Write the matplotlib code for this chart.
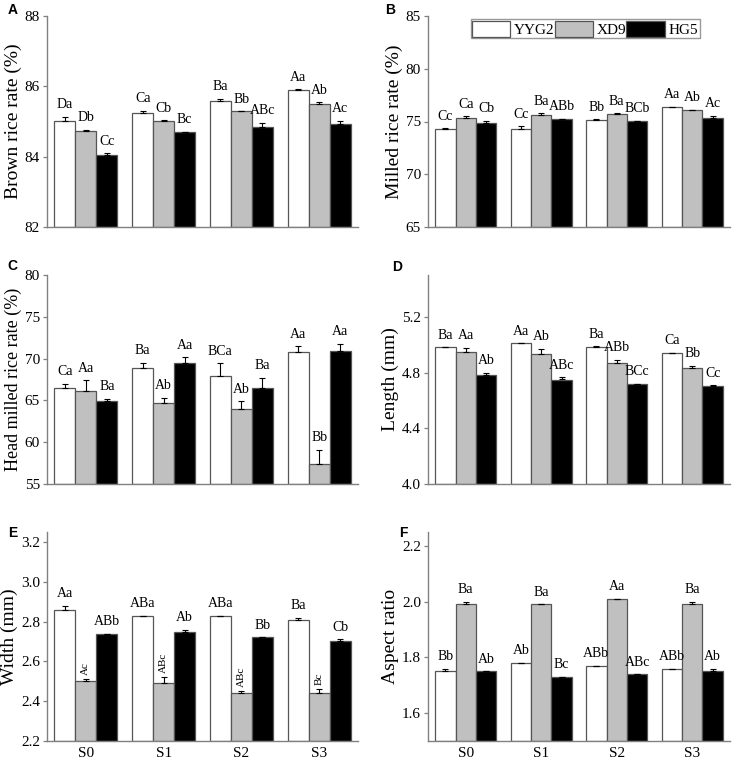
import numpy as np
import matplotlib
matplotlib.use("Agg")
import matplotlib.pyplot as plt
from matplotlib.patches import Patch

plt.rcParams['font.family'] = ['Liberation Serif', 'DejaVu Serif']

stages = ['S0', 'S1', 'S2', 'S3']
varieties = ['YYG2', 'XD9', 'HG5']

# rows: YYG2, XD9, HG5 ; columns: S0..S3
brown = [[85.02, 85.24, 85.58, 85.90], [84.72, 85.02, 85.29, 85.50], [84.06, 84.70, 84.84, 84.94]]
brown_err = [[0.12, 0.07, 0.07, 0.02], [0.04, 0.02, 0.0, 0.05], [0.04, 0.0, 0.12, 0.08]]
brown_sig = [['Da', 'Ca', 'Ba', 'Aa'], ['Db', 'Cb', 'Bb', 'Ab'], ['Cc', 'Bc', 'ABc', 'Ac']]

milled = [[74.30, 74.30, 75.16, 76.37], [75.35, 75.63, 75.70, 76.08], [74.87, 75.19, 75.03, 75.35]]
milled_err = [[0.05, 0.25, 0.05, 0.05], [0.15, 0.15, 0.07, 0.03], [0.2, 0.05, 0.03, 0.2]]
milled_sig = [['Cc', 'Cc', 'Bb', 'Aa'], ['Ca', 'Ba', 'Ba', 'Ab'], ['Cb', 'ABb', 'BCb', 'Ac']]

head = [[66.49, 68.88, 67.92, 70.76], [66.13, 64.69, 63.97, 57.39], [64.97, 69.48, 66.53, 70.88]]
head_err = [[0.5, 0.6, 1.5, 0.7], [1.3, 0.6, 0.9, 1.7], [0.25, 0.7, 1.2, 0.9]]
head_sig = [['Ca', 'Ba', 'BCa', 'Aa'], ['Aa', 'Ab', 'Ab', 'Bb'], ['Ba', 'Aa', 'Ba', 'Aa']]

length = [[4.98, 5.01, 4.98, 4.94], [4.95, 4.93, 4.87, 4.83], [4.78, 4.75, 4.72, 4.70]]
length_err = [[0.0, 0.0, 0.01, 0.0], [0.026, 0.04, 0.02, 0.02], [0.017, 0.017, 0.0, 0.01]]
length_sig = [['Ba', 'Aa', 'Ba', 'Ca'], ['Aa', 'Ab', 'ABb', 'Bb'], ['Ab', 'ABc', 'BCc', 'Cc']]

width = [[2.86, 2.83, 2.83, 2.81], [2.50, 2.49, 2.44, 2.44], [2.74, 2.75, 2.72, 2.70]]
width_err = [[0.02, 0.0, 0.0, 0.01], [0.01, 0.03, 0.01, 0.02], [0.0, 0.01, 0.0, 0.01]]
width_sig = [['Aa', 'ABa', 'ABa', 'Ba'], ['Ac', 'ABc', 'ABc', 'Bc'], ['ABb', 'Ab', 'Bb', 'Cb']]

aspect = [[1.75, 1.78, 1.77, 1.76], [1.99, 1.99, 2.01, 1.99], [1.75, 1.73, 1.74, 1.75]]
aspect_err = [[0.01, 0.0, 0.0, 0.0], [0.01, 0.0, 0.0, 0.01], [0.0, 0.0, 0.0, 0.01]]
aspect_sig = [['Bb', 'Ab', 'ABb', 'ABb'], ['Ba', 'Ba', 'Aa', 'Ba'], ['Ab', 'Bc', 'ABc', 'Ab']]

fills = ['white', '#c0c0c0', 'black']
edge = '#555555'
spine_col = '#808080'
bw = 0.27

panels = [
    ('A', brown, brown_err, brown_sig, 'Brown rice rate (%)', (82, 88), np.arange(82, 89, 2), '%d'),
    ('B', milled, milled_err, milled_sig, 'Milled rice rate (%)', (65, 85), np.arange(65, 86, 5), '%d'),
    ('C', head, head_err, head_sig, 'Head milled rice rate (%)', (55, 80), np.arange(55, 81, 5), '%d'),
    ('D', length, length_err, length_sig, 'Length (mm)', (4.0, 5.5), [4.0, 4.4, 4.8, 5.2], '%.1f'),
    ('E', width, width_err, width_sig, 'Width (mm)', (2.2, 3.25), np.arange(2.2, 3.21, 0.2), '%.1f'),
    ('F', aspect, aspect_err, aspect_sig, 'Aspect ratio', (1.5, 2.25), np.arange(1.6, 2.21, 0.2), '%.1f'),
]

fig = plt.figure(figsize=(7.4, 7.62), dpi=100)
W, H = 740.0, 762.0
cols = [(47, 358), (428, 730)]
rows = [(16, 227), (275, 484), (532, 741)]
# panel letter centres in pixels
letter_pos = [(13, 10), (390, 10), (12, 266), (397, 267), (13, 533), (403, 533)]

x = np.arange(len(stages))
for k, (letter, vals, errs, sigs, ylab, ylim, yticks, fmt) in enumerate(panels):
    r, c = divmod(k, 2)
    x0, x1 = cols[c]
    y0, y1 = rows[r]
    ax = fig.add_axes([x0 / W, 1 - y1 / H, (x1 - x0) / W, (y1 - y0) / H])

    for j in range(3):
        xs = x + (j - 1) * bw
        v = np.array(vals[j])
        e = np.array(errs[j])
        ax.bar(xs, v - ylim[0], bw, bottom=ylim[0], color=fills[j], edgecolor=edge, linewidth=0.9,
               label=varieties[j], zorder=2)
        ax.errorbar(xs, v, yerr=[np.zeros_like(e), e], fmt='none', ecolor='black',
                    elinewidth=0.8, capsize=2.2, capthick=0.8, zorder=3)
        for i in range(len(stages)):
            if letter == 'E' and j == 1:
                ax.annotate(sigs[j][i], (xs[i], v[i] + e[i]), xytext=(0, 3), textcoords='offset points',
                            ha='center', va='bottom', rotation=90, fontsize=8)
            else:
                ax.annotate(sigs[j][i], (xs[i], v[i] + e[i]), xytext=(0, 4), textcoords='offset points',
                            ha='center', va='bottom', fontsize=10)

    ax.set_xlim(-0.5, 3.5)
    ax.set_ylim(*ylim)
    ax.set_yticks(yticks)
    ax.set_yticklabels([fmt % t for t in yticks])
    ax.set_xticks(x)
    if r == 2:
        ax.set_xticklabels(stages, fontsize=11)
    else:
        ax.set_xticklabels([])
    ax.tick_params(axis='x', length=0, pad=4)
    ax.tick_params(axis='y', direction='out', length=3, width=0.9, pad=2, color=spine_col, labelsize=11)
    for s in ['top', 'right']:
        ax.spines[s].set_visible(False)
    for s in ['left', 'bottom']:
        ax.spines[s].set_color(spine_col)
        ax.spines[s].set_linewidth(1.0)
    ax.set_ylabel(ylab, fontsize=13 if letter == 'C' else 14, labelpad=2)

    lx, ly = letter_pos[k]
    fig.text(lx / W, 1 - ly / H, letter, family='Liberation Sans',
             fontweight='bold', fontsize=10, va='center', ha='center')

    if letter == 'B':
        handles = [Patch(facecolor=fills[j], edgecolor=edge, linewidth=0.9) for j in range(3)]
        leg = ax.legend(handles, varieties, ncol=3, loc='upper center', bbox_to_anchor=(0.52, 0.985),
                        fontsize=11, frameon=True, fancybox=False, edgecolor=spine_col,
                        handlelength=2.5, handleheight=1.25, handletextpad=0.25, columnspacing=0.0,
                        borderpad=0.1, borderaxespad=0.0)
        leg.get_frame().set_linewidth(1.0)

fig.savefig('out.png', dpi=100)
